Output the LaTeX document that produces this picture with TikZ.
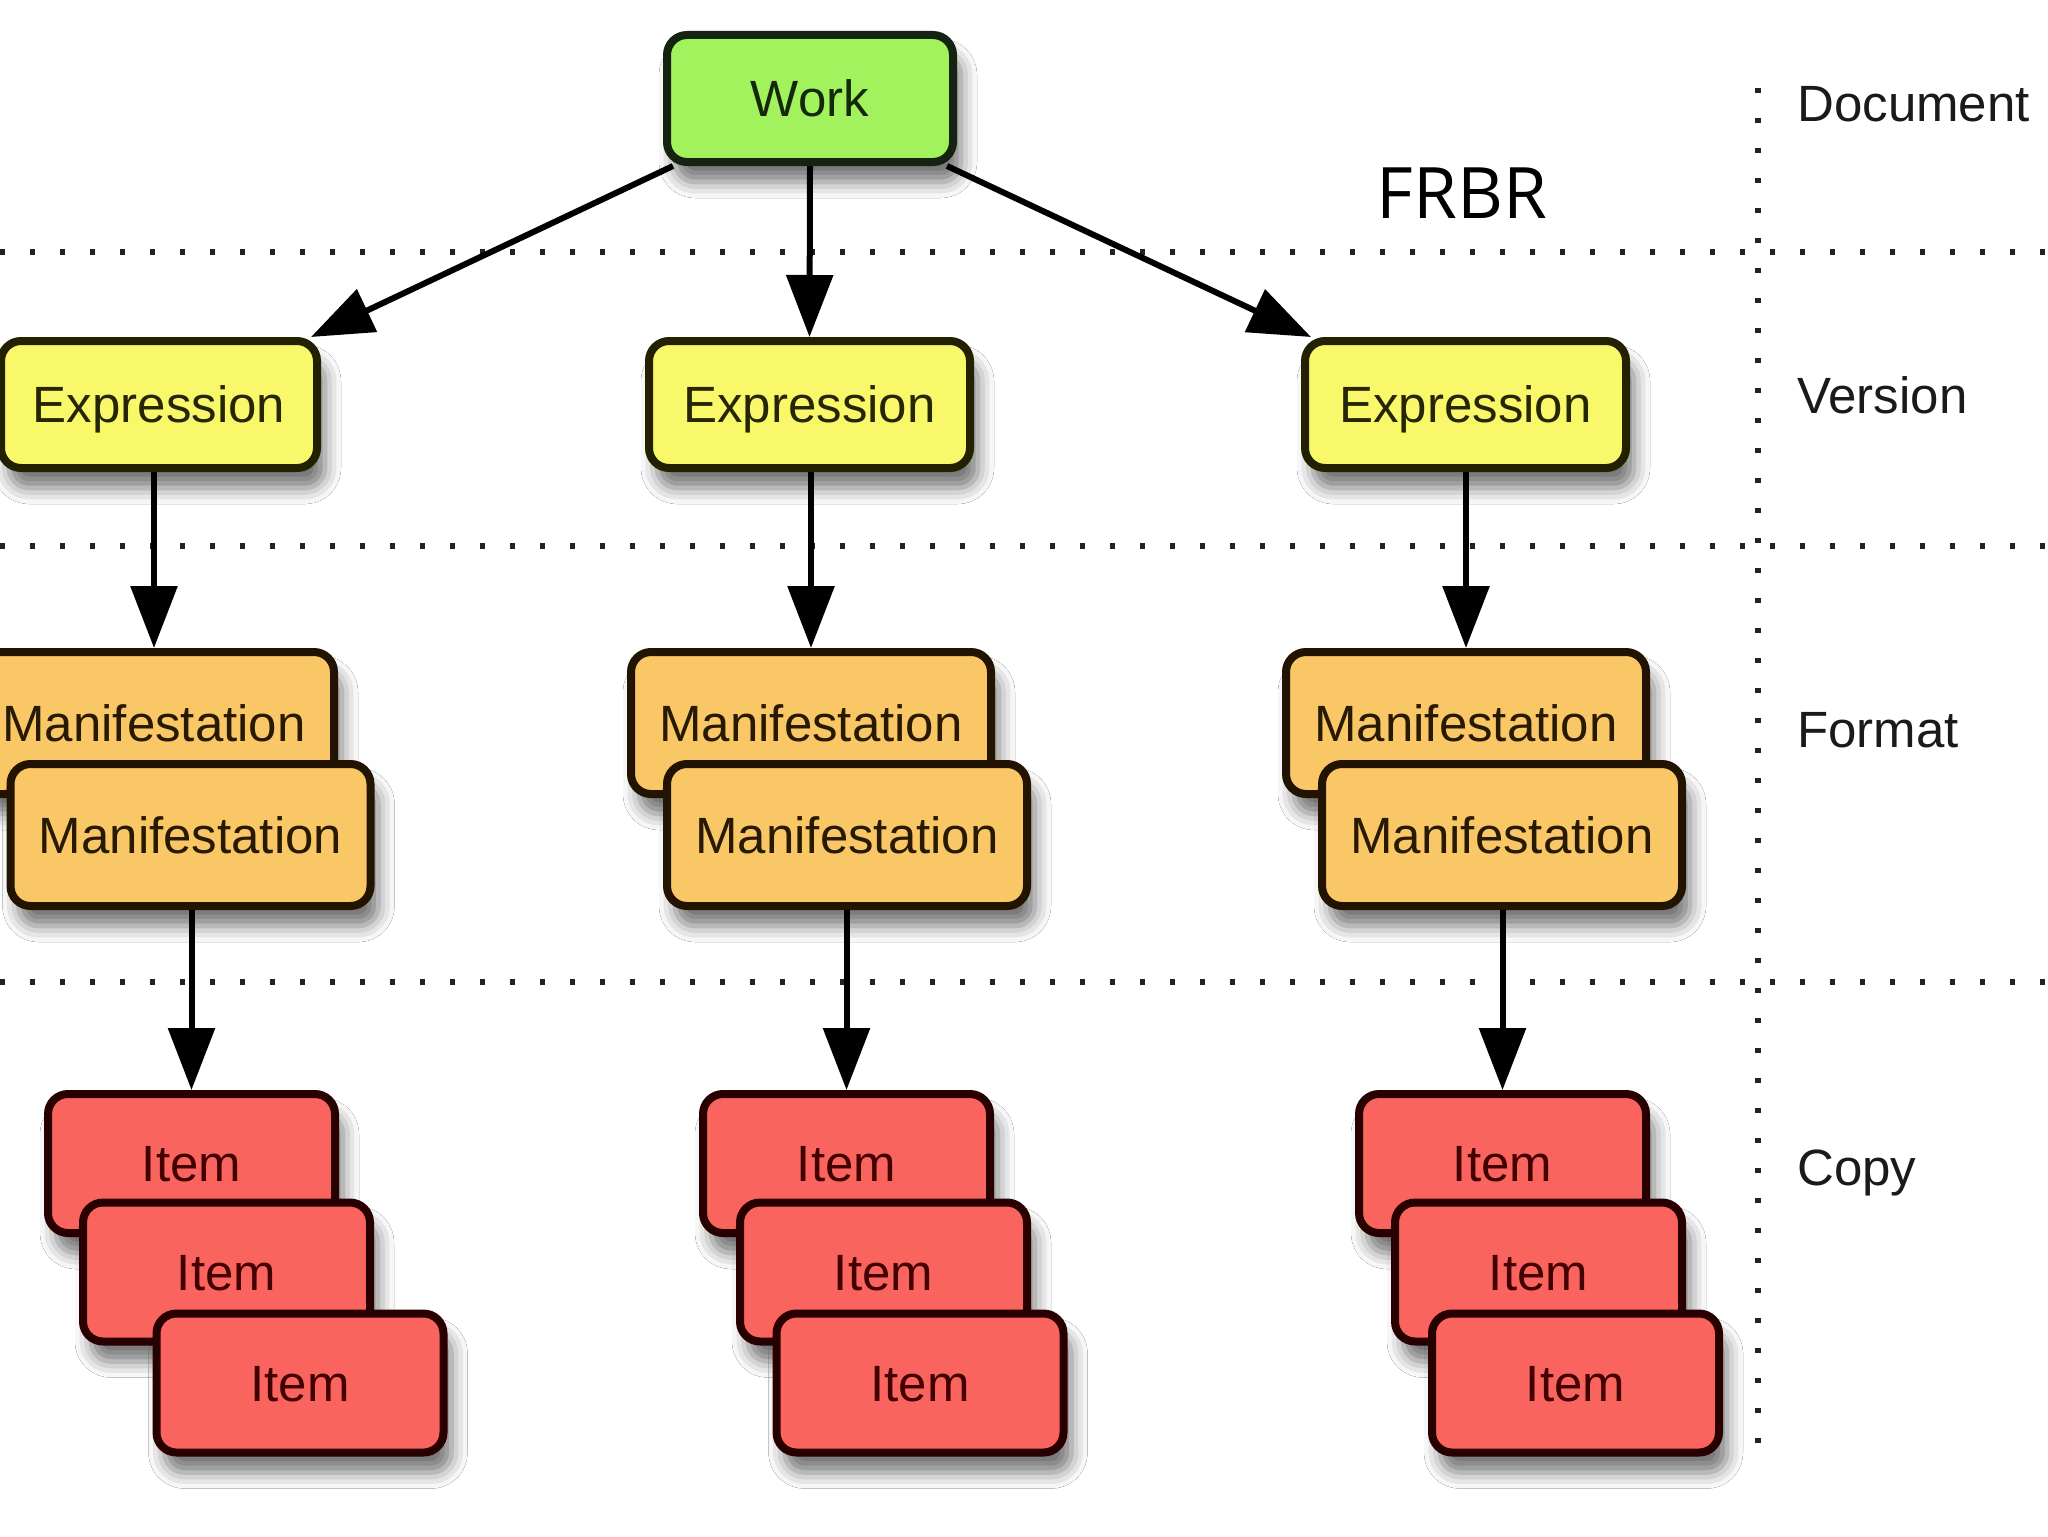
\documentclass[tikz,border=0pt]{standalone}
\usepackage{fontspec}
\setmainfont{Liberation Sans}
\newfontfamily\frbrfont{Open Sans}
\usetikzlibrary{arrows.meta,calc,shadows.blur}
\definecolor{workfill}{HTML}{A2F25E}
\definecolor{workline}{HTML}{142410}
\definecolor{worktext}{HTML}{15290A}
\definecolor{expfill}{HTML}{F9F86A}
\definecolor{expline}{HTML}{222200}
\definecolor{exptext}{HTML}{262604}
\definecolor{manfill}{HTML}{F9C766}
\definecolor{manline}{HTML}{221400}
\definecolor{mantext}{HTML}{281A00}
\definecolor{itemfill}{HTML}{F9645E}
\definecolor{itemline}{HTML}{280000}
\definecolor{itemtext}{HTML}{420000}
\definecolor{dotcol}{HTML}{222222}
\definecolor{labcol}{HTML}{1A1A1A}
\tikzset{
  box/.style={draw, rounded corners=10pt, line width=4pt,
    font=\fontsize{25.5}{30}\selectfont, text height=18.2pt, text depth=0pt,
    inner sep=0pt,
    blur shadow={shadow xshift=4pt, shadow yshift=-10pt, shadow blur radius=8pt, shadow opacity=55}},
  workbox/.style={box, fill=workfill, draw=workline, text=worktext,
    minimum width=143pt, minimum height=63.5pt},
  expbox/.style={box, fill=expfill, draw=expline, text=exptext,
    minimum width=160.5pt, minimum height=63.5pt},
  manbox/.style={box, fill=manfill, draw=manline, text=mantext,
    minimum width=180pt, minimum height=71pt},
  itembox/.style={box, fill=itemfill, draw=itemline, text=itemtext,
    minimum width=143.5pt, minimum height=69.5pt},
  arr/.style={draw=black, line width=3pt, -{Triangle[length=31pt,width=23pt]}},
  dotline/.style={draw=dotcol, line width=2.6pt, dash pattern=on 2.6pt off 12.4pt},
  lab/.style={anchor=west, inner sep=0pt, text=labcol,
    font=\fontsize{25.5}{30}\selectfont, text height=18.2pt, text depth=0pt}
}
\begin{document}
\begin{tikzpicture}[x=0.5pt, y=-0.5pt]
\useasboundingbox (0,0) rectangle (2048,1536);
\fill[white] (0,0) rectangle (2048,1536);

% dotted layer separators
\draw[dotline] (0,252) -- (2048,252);
\draw[dotline] (0,546) -- (2048,546);
\draw[dotline] (0,982) -- (2048,982);
\draw[dotline] (1758,88) -- (1758,1462);

% layer labels
\node[lab] (ldoc) at (1797,103) {Document};
\node[lab] (lver) at (1797,395) {Version};
\node[lab] (lfor) at (1797,729) {Format};
\node[lab] (lcop) at (1797,1167) {Copy};
\node[inner sep=0pt, font=\fontsize{35.5}{42}\selectfont\frbrfont, text height=25.3pt, text depth=0pt] (frbr) at (1462,193) {FRBR};

% work
\node[workbox] (work) at (810,98.5) {Work};

% expressions
\node[expbox, minimum width=158pt] (e1) at (159,404.5) {Expression};
\node[expbox] (e2) at (809.5,404.5) {Expression};
\node[expbox] (e3) at (1465.5,404.5) {Expression};

% manifestations
\node[manbox] (m1b) at (154,723) {Manifestation};
\node[manbox] (m1f) at (190.5,835) {Manifestation};
\node[manbox] (m2b) at (811,723) {Manifestation};
\node[manbox] (m2f) at (847,835) {Manifestation};
\node[manbox] (m3b) at (1466,723) {Manifestation};
\node[manbox] (m3f) at (1502,835) {Manifestation};

% items
\node[itembox] (i11) at (191.5,1163.5) {Item};
\node[itembox] (i12) at (226.5,1272) {Item};
\node[itembox] (i13) at (300,1383) {Item};
\node[itembox] (i21) at (846.5,1163.5) {Item};
\node[itembox] (i22) at (883.5,1272) {Item};
\node[itembox] (i23) at (920,1383) {Item};
\node[itembox] (i31) at (1502.5,1163.5) {Item};
\node[itembox] (i32) at (1538.5,1272) {Item};
\node[itembox] (i33) at (1575.5,1383) {Item};

% connectors
\draw[arr] ($(work.south west)+(10,0)$) -- ($(e1.north east)+(-10,0)$);
\draw[arr] (work.south) -- (e2.north);
\draw[arr] ($(work.south east)+(-10,0)$) -- ($(e3.north west)+(10,0)$);
\draw[arr] (m1b.north |- e1.south) -- (m1b.north);
\draw[arr] (m2b.north |- e2.south) -- (m2b.north);
\draw[arr] (m3b.north |- e3.south) -- (m3b.north);
\draw[arr] (i11.north |- m1f.south) -- (i11.north);
\draw[arr] (i21.north |- m2f.south) -- (i21.north);
\draw[arr] (i31.north |- m3f.south) -- (i31.north);
\end{tikzpicture}
\end{document}
